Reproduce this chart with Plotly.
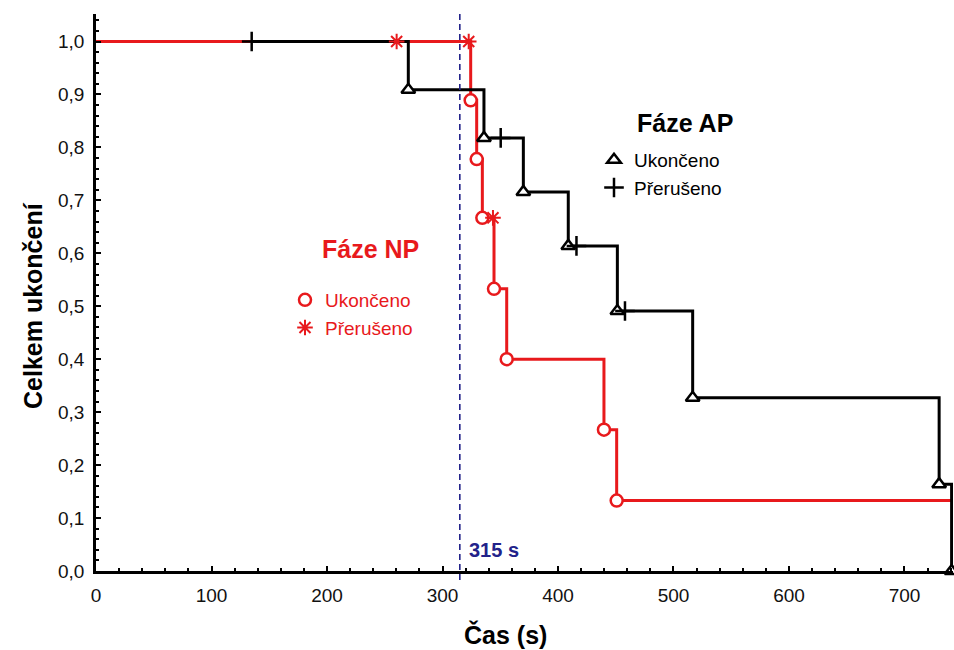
import plotly.graph_objects as go

# ---------------- data ----------------
# Phase NP (red): Kaplan-Meier step curve
np_step_t = [0, 324.4, 329.6, 334.5, 344.6, 355.6, 439.8, 450.8, 745]
np_step_s = [1.0, 0.889, 0.778, 0.667, 0.533, 0.400, 0.267, 0.133, 0.133]
np_event_t = [324.4, 329.6, 334.5, 344.6, 355.6, 439.8, 450.8]
np_event_s = [0.889, 0.778, 0.667, 0.533, 0.400, 0.267, 0.133]
np_cens_t = [260.3, 322.7, 343.7]
np_cens_s = [1.0, 1.0, 0.667]

# Phase AP (black): Kaplan-Meier step curve
ap_step_t = [134.8, 270.4, 335.9, 370.0, 408.9, 451.4, 516.6, 730.0, 740.8]
ap_step_s = [1.0, 0.909, 0.818, 0.716, 0.614, 0.491, 0.327, 0.164, 0.0]
ap_event_t = [270.4, 335.9, 370.0, 408.9, 451.4, 516.6, 730.0, 740.8]
ap_event_s = [0.909, 0.818, 0.716, 0.614, 0.491, 0.327, 0.164, 0.0]
ap_cens_t = [134.8, 350.4, 416.0, 458.0]
ap_cens_s = [1.0, 0.818, 0.614, 0.491]

threshold = 315
threshold_label = "315 s"

x_ticks = [0, 100, 200, 300, 400, 500, 600, 700]
y_ticks = [0.0, 0.1, 0.2, 0.3, 0.4, 0.5, 0.6, 0.7, 0.8, 0.9, 1.0]

# ---------------- styling ----------------
RED = "#e8191c"
BLACK = "#000000"
NAVY = "#22228a"
FONT = "Liberation Sans, Arial, sans-serif"

fig = go.Figure()

fig.add_trace(go.Scatter(x=np_step_t, y=np_step_s, mode="lines",
                         line=dict(color=RED, width=3, shape="hv"),
                         showlegend=False, hoverinfo="skip"))
fig.add_trace(go.Scatter(x=ap_step_t, y=ap_step_s, mode="lines",
                         line=dict(color=BLACK, width=3, shape="hv"),
                         showlegend=False, hoverinfo="skip"))

fig.add_trace(go.Scatter(x=np_event_t, y=np_event_s, mode="markers", name="Ukončeno",
                         marker=dict(symbol="circle", size=12, color="white",
                                     line=dict(color=RED, width=2.5)),
                         legend="legend", cliponaxis=False))
fig.add_trace(go.Scatter(x=np_cens_t, y=np_cens_s, mode="markers", name="Přerušeno",
                         marker=dict(symbol="asterisk-open", size=13, color=RED,
                                     line=dict(color=RED, width=2)),
                         legend="legend", cliponaxis=False))
fig.add_trace(go.Scatter(x=ap_event_t, y=ap_event_s, mode="markers", name="Ukončeno",
                         marker=dict(symbol="triangle-up", size=12, color="white",
                                     line=dict(color=BLACK, width=2.5)),
                         legend="legend2", cliponaxis=False))
fig.add_trace(go.Scatter(x=ap_cens_t, y=ap_cens_s, mode="markers", name="Přerušeno",
                         marker=dict(symbol="cross-thin-open", size=14, color=BLACK,
                                     line=dict(color=BLACK, width=2.5)),
                         legend="legend2", cliponaxis=False))

fig.add_shape(type="line", x0=threshold, x1=threshold, xref="x",
              y0=-0.016, y1=1, yref="paper",
              line=dict(color=NAVY, width=1.6, dash="6px,4px"), layer="above")

W, H = 954, 650
L, R, T, B = 96, 1, 14, 79
pw, ph = W - L - R, H - T - B


def px(x):
    return (x - L) / pw


def py(y):
    return (H - B - y) / ph


annotations = [
    dict(x=threshold, xref="x", y=py(550), yref="paper", text=f"<b>{threshold_label}</b>",
         showarrow=False, xanchor="left", xshift=7, yanchor="middle",
         font=dict(size=20, color=NAVY, family=FONT)),
    dict(x=px(370), y=py(249), xref="paper", yref="paper", text="<b>Fáze NP</b>",
         showarrow=False, xanchor="center", yanchor="middle",
         font=dict(size=25, color=RED, family=FONT)),
    dict(x=px(685), y=py(123), xref="paper", yref="paper", text="<b>Fáze AP</b>",
         showarrow=False, xanchor="center", yanchor="middle",
         font=dict(size=25, color=BLACK, family=FONT)),
    dict(x=px(505), y=py(634), xref="paper", yref="paper", text="<b>Čas (s)</b>",
         showarrow=False, xanchor="center", yanchor="middle",
         font=dict(size=25, color=BLACK, family=FONT)),
    dict(x=px(33), y=py(306), xref="paper", yref="paper", text="<b>Celkem ukončení</b>",
         showarrow=False, xanchor="center", yanchor="middle", textangle=-90,
         font=dict(size=25, color=BLACK, family=FONT)),
]

fig.update_layout(
    width=W, height=H,
    margin=dict(l=L, r=R, t=T, b=B, pad=0),
    paper_bgcolor="white", plot_bgcolor="white",
    separators=", ",
    font=dict(family=FONT, size=19, color="#111111"),
    annotations=annotations,
    legend=dict(x=px(285), y=py(281), xanchor="left", yanchor="top",
                bgcolor="rgba(0,0,0,0)", borderwidth=0,
                font=dict(size=19, color=RED, family=FONT),
                itemsizing="trace", traceorder="normal", tracegroupgap=0),
    legend2=dict(x=px(594), y=py(141), xanchor="left", yanchor="top",
                 bgcolor="rgba(0,0,0,0)", borderwidth=0,
                 font=dict(size=19, color=BLACK, family=FONT),
                 itemsizing="trace", traceorder="normal", tracegroupgap=0),
    xaxis=dict(range=[0, 742], tickvals=x_ticks, ticks="inside", ticklen=5, tickwidth=2,
               tickcolor=BLACK, showline=True, linecolor=BLACK, linewidth=2.5,
               showgrid=False, zeroline=False, fixedrange=True, ticklabelstandoff=5,
               minor=dict(dtick=20, ticks="inside", ticklen=3, tickwidth=1.5, tickcolor=BLACK,
                          showgrid=False),
               tickfont=dict(size=19, color="#111111")),
    yaxis=dict(range=[0, 1.052], tickvals=y_ticks, tickformat=".1f", ticks="inside", ticklen=5,
               tickwidth=2, tickcolor=BLACK, showline=True, linecolor=BLACK, linewidth=2.5,
               showgrid=False, zeroline=False, fixedrange=True, ticklabelstandoff=5,
               minor=dict(dtick=0.02, ticks="inside", ticklen=3, tickwidth=1.5, tickcolor=BLACK,
                          showgrid=False),
               tickfont=dict(size=19, color="#111111")),
)

fig.write_html(
    "out.html",
    config={"displayModeBar": False},
    post_script="document.body.style.margin='0';document.body.style.overflow='hidden';",
)
